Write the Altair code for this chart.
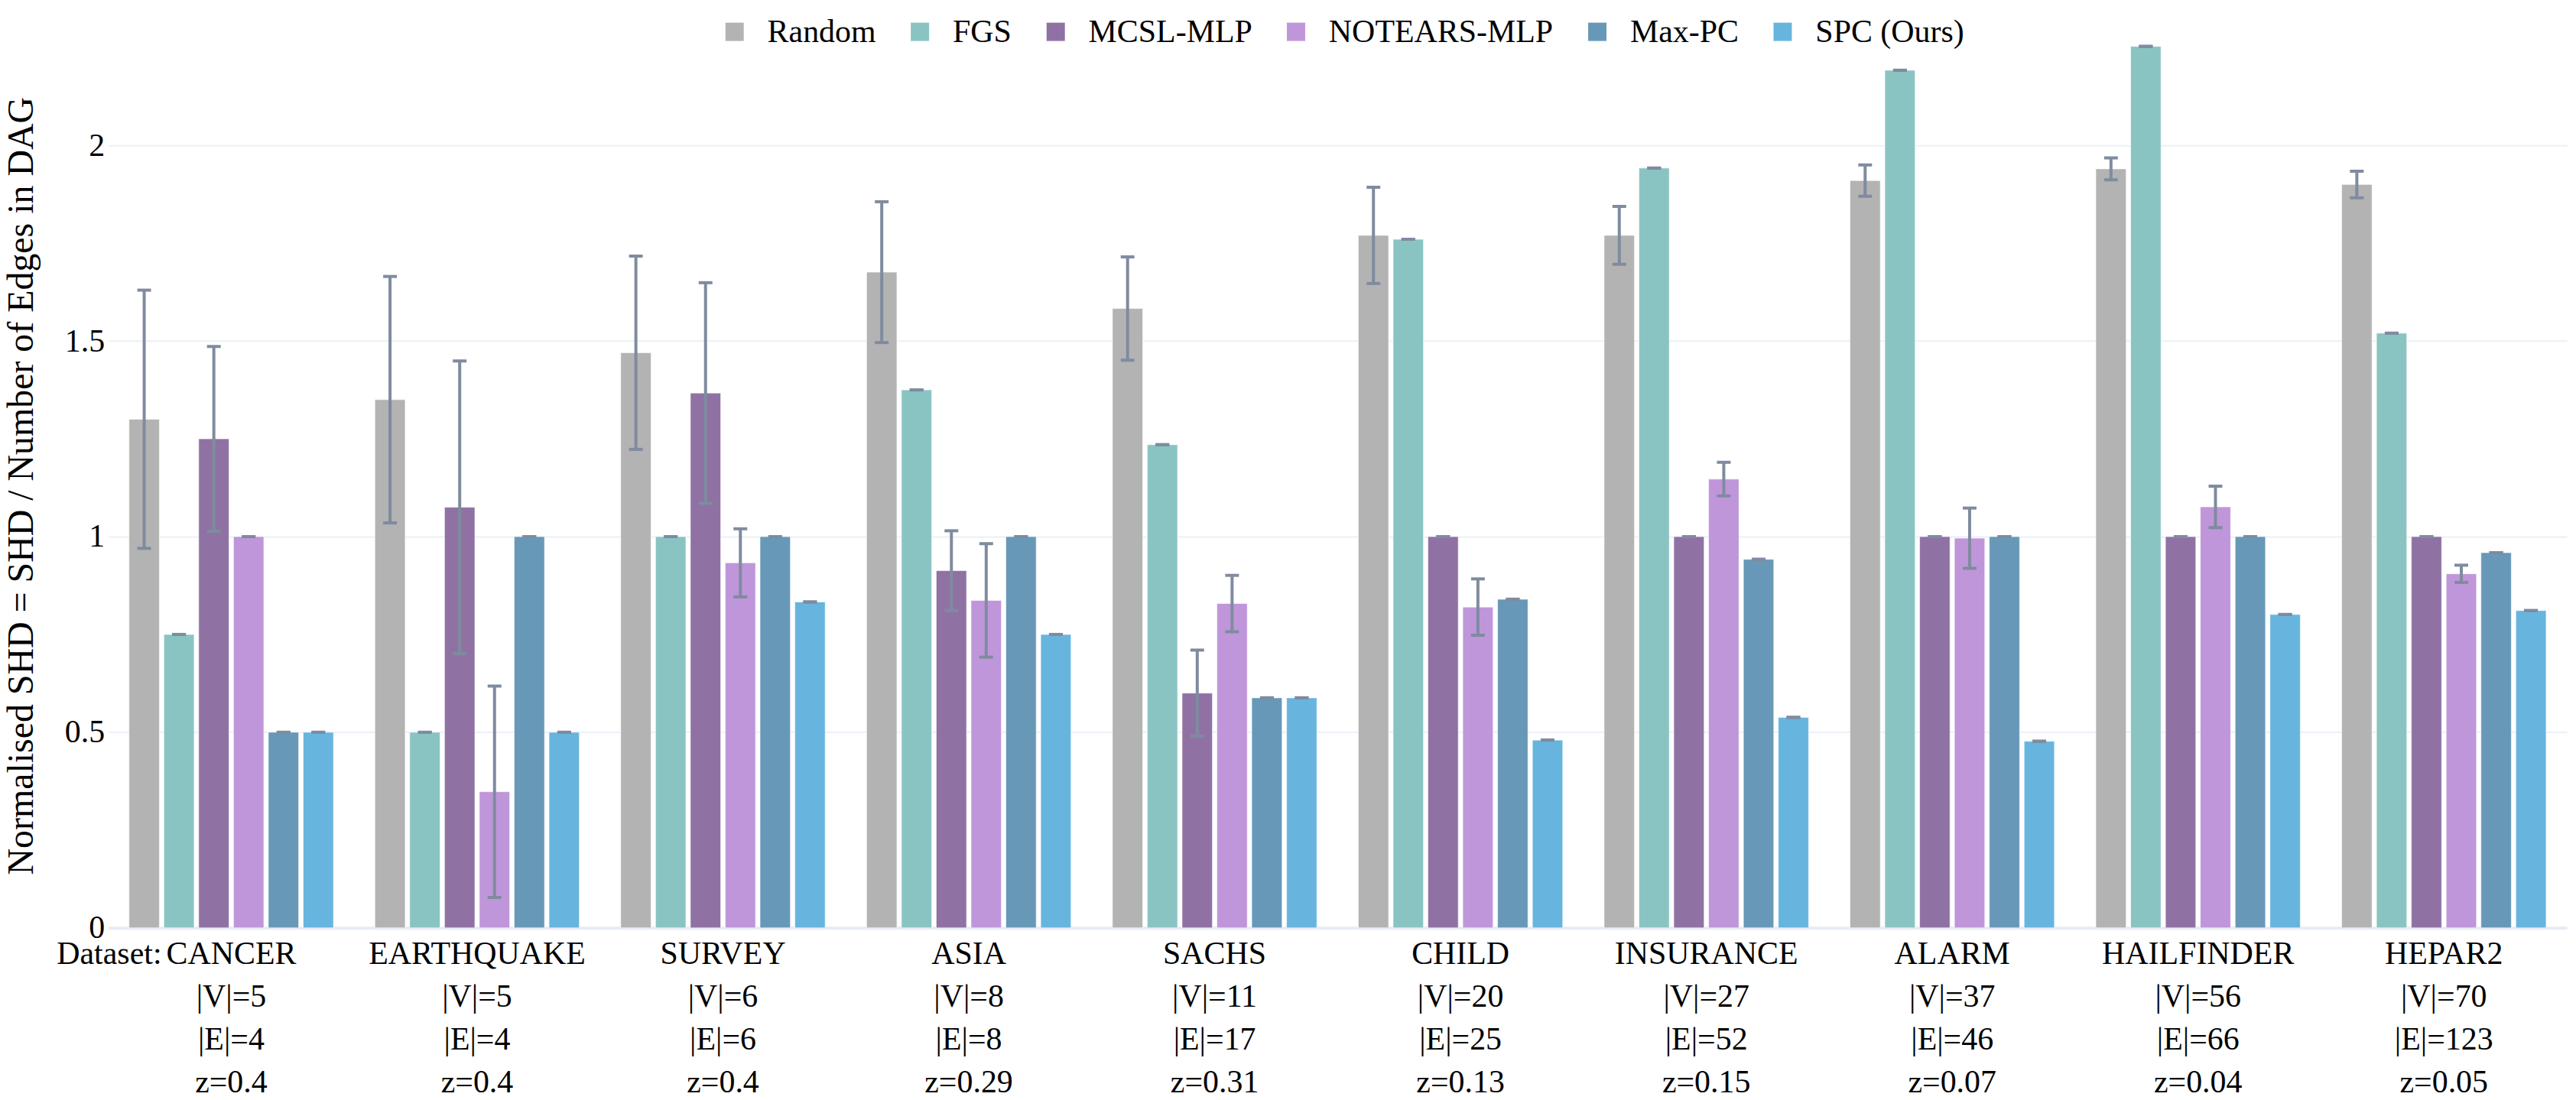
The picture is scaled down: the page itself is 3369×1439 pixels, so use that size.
import altair as alt
import pandas as pd

datasets = ["CANCER", "EARTHQUAKE", "SURVEY", "ASIA", "SACHS", "CHILD",
            "INSURANCE", "ALARM", "HAILFINDER", "HEPAR2"]
n_vertices = [5, 5, 6, 8, 11, 20, 27, 37, 56, 70]
n_edges = [4, 4, 6, 8, 17, 25, 52, 46, 66, 123]
z_vals = ["0.4", "0.4", "0.4", "0.29", "0.31", "0.13", "0.15", "0.07", "0.04", "0.05"]

methods = ["Random", "FGS", "MCSL-MLP", "NOTEARS-MLP", "Max-PC", "SPC (Ours)"]
colors = ["#B3B3B3", "#89C4C3", "#8F72A3", "#BF96DA", "#6798B7", "#67B5DF"]

random_mean = [1.30, 1.35, 1.47, 1.676, 1.583, 1.77, 1.77, 1.91, 1.94, 1.90]
random_err = [0.33, 0.315, 0.247, 0.18, 0.132, 0.123, 0.074, 0.04, 0.028, 0.034]
fgs_mean = [0.75, 0.50, 1.00, 1.375, 1.235, 1.76, 1.942, 2.192, 2.253, 1.52]
fgs_err = [0, 0, 0, 0, 0, 0, 0, 0, 0, 0]
mcsl_mean = [1.25, 1.075, 1.367, 0.913, 0.60, 1.0, 1.0, 1.0, 1.0, 1.0]
mcsl_err = [0.236, 0.374, 0.282, 0.102, 0.11, 0, 0, 0, 0, 0]
notears_mean = [1.0, 0.348, 0.933, 0.837, 0.829, 0.82, 1.147, 0.996, 1.076, 0.905]
notears_err = [0, 0.27, 0.087, 0.145, 0.072, 0.072, 0.043, 0.077, 0.053, 0.022]
maxpc_mean = [0.5, 1.0, 1.0, 1.0, 0.588, 0.84, 0.942, 1.0, 1.0, 0.959]
maxpc_err = [0, 0, 0, 0, 0, 0, 0, 0, 0, 0]
spc_mean = [0.5, 0.5, 0.833, 0.75, 0.588, 0.48, 0.538, 0.477, 0.801, 0.811]
spc_err = [0, 0, 0, 0, 0, 0, 0, 0, 0, 0]

series = {
    "Random": (random_mean, random_err),
    "FGS": (fgs_mean, fgs_err),
    "MCSL-MLP": (mcsl_mean, mcsl_err),
    "NOTEARS-MLP": (notears_mean, notears_err),
    "Max-PC": (maxpc_mean, maxpc_err),
    "SPC (Ours)": (spc_mean, spc_err),
}

labels = [f"{d};|V|={v};|E|={e};z={z}" for d, v, e, z in zip(datasets, n_vertices, n_edges, z_vals)]

rows = []
for m in methods:
    means, errs = series[m]
    for lab, mu, er in zip(labels, means, errs):
        rows.append({"label": lab, "method": m, "value": mu,
                     "lo": mu - er, "hi": mu + er})
df = pd.DataFrame(rows)

FONT = "Liberation Serif"
YTITLE = "Normalised SHD = SHD / Number of Edges in DAG"

x_axis = alt.Axis(labelExpr="split(datum.label, ';')",
                  labelFont=FONT, labelFontSize=42, labelColor="black",
                  labelLineHeight=56, labelPadding=14, labelAngle=0,
                  ticks=False, tickSize=0, labelLimit=0,
                  domainColor="#E6ECF6", domainWidth=4, grid=False)
y_axis = alt.Axis(values=[0, 0.5, 1, 1.5, 2], format="~g",
                  labelFont=FONT, labelFontSize=42, labelColor="black",
                  labelPadding=5, ticks=False, tickSize=0, domain=False,
                  gridColor="#EBF0F8", gridWidth=2,
                  titleFont=FONT, titleFontSize=48, titleFontWeight="normal",
                  titleColor="black", titleAngle=-90,
                  titleBaseline="alphabetic", titleX=-99, titleY=600,
                  titleAlign="center")
x_scale = alt.Scale(paddingInner=0.15, paddingOuter=0.075)
y_scale = alt.Scale(domain=[0, 2.3], nice=False)
off_scale = alt.Scale(paddingInner=0.13, paddingOuter=0.065)


def xenc():
    return alt.X("label:N", sort=labels, title=None, scale=x_scale, axis=x_axis)


def offenc():
    return alt.XOffset("method:N", sort=methods, scale=off_scale)


def yenc(field):
    return alt.Y(field, scale=y_scale, title=YTITLE, axis=y_axis)


base = alt.Chart(df)

bars = base.mark_bar(stroke="white", strokeWidth=1, strokeOpacity=0.6).encode(
    x=xenc(),
    xOffset=offenc(),
    y=yenc("value:Q"),
    color=alt.Color("method:N", sort=methods,
                    scale=alt.Scale(domain=methods, range=colors),
                    legend=alt.Legend(orient="none", direction="horizontal",
                                      legendX=800, legendY=-16, title=None,
                                      symbolType="square", symbolSize=576,
                                      symbolStrokeWidth=0, symbolOpacity=1,
                                      labelFont=FONT, labelFontSize=42,
                                      labelColor="black", labelOffset=22,
                                      columnPadding=36, labelLimit=0,
                                      columns=6)),
)

err_color = "#7F8B9F"
rules = base.mark_rule(color=err_color, strokeWidth=4).encode(
    x=xenc(), xOffset=offenc(), y=yenc("lo:Q"), y2="hi:Q",
)
cap_hi = base.mark_tick(color=err_color, thickness=4, size=18, opacity=1).encode(
    x=xenc(), xOffset=offenc(), y=yenc("hi:Q"),
)
cap_lo = base.mark_tick(color=err_color, thickness=4, size=18, opacity=1).encode(
    x=xenc(), xOffset=offenc(), y=yenc("lo:Q"),
)

prefix = alt.Chart(pd.DataFrame({"t": ["Dataset:"]})).mark_text(
    font=FONT, fontSize=42, color="black", align="right", baseline="alphabetic"
).encode(x=alt.value(70), y=alt.value(1227), text="t:N")

chart = alt.layer(bars, rules, cap_hi, cap_lo, prefix).properties(
    width=3223, height=1180,
    padding={"left": 134, "top": 27, "right": 4, "bottom": 224},
    autosize=alt.AutoSizeParams(type="none"),
    background="white",
).configure(font=FONT).configure_axis(
    labelFont=FONT, titleFont=FONT, labelFontSize=42, titleFontSize=48,
    titleFontWeight="normal", labelColor="black", titleColor="black"
).configure_legend(labelFont=FONT, labelFontSize=42, labelColor="black"
).configure_text(font=FONT).configure_view(stroke=None)

chart.save("out.html", embed_options={"renderer": "svg", "actions": False})
